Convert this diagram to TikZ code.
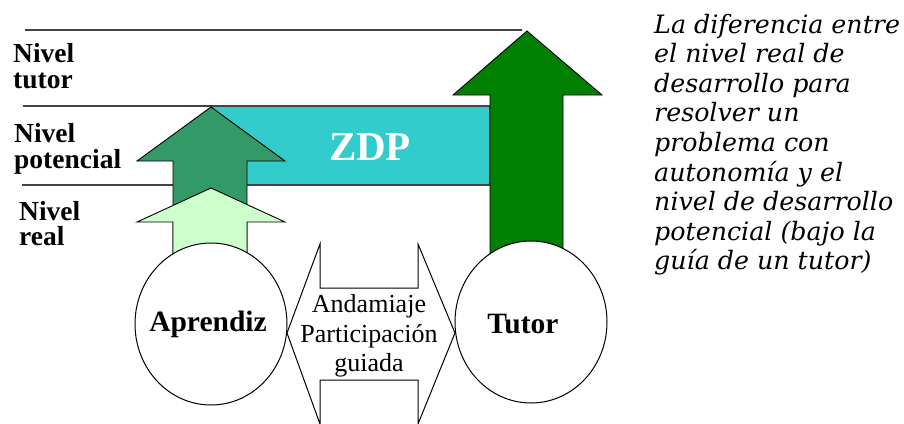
\documentclass[tikz,border=0pt]{standalone}
\usepackage{fontspec}
\setmainfont{Liberation Serif}
\newfontfamily\labelfont{Liberation Serif}
\newfontfamily\notefont{DejaVu Serif}
\usetikzlibrary{shapes.geometric}
\definecolor{zdp}{HTML}{33CCCC}
\definecolor{potgreen}{HTML}{339966}
\definecolor{realgreen}{HTML}{CCFFCC}
\definecolor{tutgreen}{HTML}{008000}
\definecolor{levelline}{HTML}{444444}
\begin{document}
\begin{tikzpicture}[x=1pt,y=-1pt,
  levelrule/.style={draw=levelline,line width=2pt},
  arrowshape/.style={draw=black,line width=0.9pt,line join=miter},
  actor/.style={draw=black,fill=white,line width=1pt,ellipse,minimum width=152pt,minimum height=162pt},
  leftlabel/.style={anchor=base west,inner sep=0pt,font=\labelfont\bfseries\fontsize{27.5}{30}\selectfont},
  notetext/.style={anchor=base west,inner sep=0pt,font=\notefont\itshape\fontsize{25.3}{29}\selectfont},
  bodytext/.style={inner sep=0pt,font=\labelfont\fontsize{26}{30}\selectfont},
  actortext/.style={inner sep=0pt,font=\labelfont\bfseries\fontsize{29.5}{32}\selectfont}]
\useasboundingbox (0,0) rectangle (904,423);
\fill[white] (0,0) rectangle (904,423);
% level rules
\coordinate (t1) at (25,30);  \coordinate (t2) at (522,30);
\coordinate (p1) at (23,106); \coordinate (p2) at (490,106);
\coordinate (r1) at (22,185); \coordinate (r2) at (490,185);
\draw[levelrule] (t1) -- (t2);
\draw[levelrule] (p1) -- (p2);
\draw[levelrule] (r1) -- (r2);
% ZDP band
\draw[fill=zdp,draw=levelline,line width=1.6pt] (212,106) rectangle (490,185);
\node[font=\labelfont\bfseries\fontsize{41}{44}\selectfont,text=white] (zdp) at (370,147) {ZDP};
% tutor arrow
\draw[arrowshape,fill=tutgreen] (527,31) -- (602,95) -- (563,95) -- (563,280) -- (490,280) -- (490,95) -- (453,95) -- cycle;
% potencial arrow
\draw[arrowshape,fill=potgreen] (211,107) -- (285,161) -- (247,161) -- (247,260) -- (173,260) -- (173,161) -- (137,161) -- cycle;
% real arrow
\draw[arrowshape,fill=realgreen] (211,188) -- (285,222) -- (247,222) -- (247,280) -- (173,280) -- (173,222) -- (137,222) -- cycle;
% actors
\node[actor] (apr) at (211,324) {};
\node[actor] (tut) at (531,322) {};
\node[actortext] (aprt) at (208,324) {Aprendiz};
\node[actortext] (tutt) at (523,324) {Tutor};
% double arrow
\draw[arrowshape,fill=white,line width=1pt] (287,333) -- (320,244) -- (320,288) -- (418,288) -- (418,244) -- (455,333) -- (418,424) -- (418,380) -- (320,380) -- (320,424) -- cycle;
\node[bodytext] (and) at (369,306) {Andamiaje};
\node[bodytext] (par) at (369,336) {Participación};
\node[bodytext] (gui) at (369,365) {guiada};
% left labels
\node[leftlabel] (lt1) at (13,62) {Nivel};
\node[leftlabel] (lt2) at (13,88) {tutor};
\node[leftlabel] (lp1) at (14,142) {Nivel};
\node[leftlabel] (lp2) at (14,168) {potencial};
\node[leftlabel] (lr1) at (19,220) {Nivel};
\node[leftlabel] (lr2) at (19,245) {real};
% note
\foreach \txt [count=\i] in {La diferencia entre,el nivel real de,desarrollo para,resolver un,problema con,autonomía y el,nivel de desarrollo,potencial (bajo la,guía de un tutor)}
  \node[notetext] (n\i) at (654,{33+29.6*(\i-1)}) {\txt};
\end{tikzpicture}
\end{document}
